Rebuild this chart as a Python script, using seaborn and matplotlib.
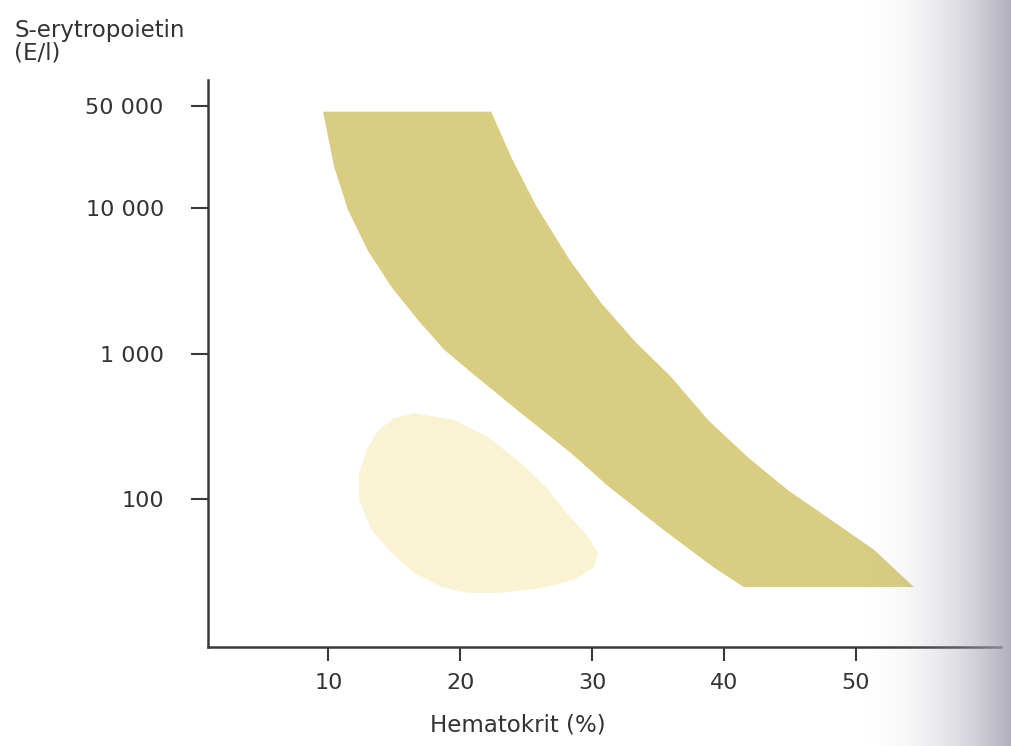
import numpy as np
import matplotlib
matplotlib.use("Agg")
import matplotlib.pyplot as plt
import seaborn as sns

# band: normal relation hematocrit vs S-EPO, both edges
band_left_hct = [9.6, 10.45, 11.5, 13.0, 14.8, 16.8, 18.8, 20.8, 24.6, 28.4,
                 31.1, 35.45, 39.2, 41.5]
band_left_epo = [46000, 19100, 9700, 5100, 2860, 1700, 1060, 746, 390, 207,
                 125, 61, 34, 24.8]
band_right_hct = [22.35, 23.9, 25.8, 28.3, 30.7, 33.3, 36.0, 38.8, 41.8,
                  44.85, 48.1, 51.4, 54.4]
band_right_epo = [46000, 22100, 10200, 4400, 2220, 1200, 690, 349, 194,
                  115, 72, 44.6, 24.8]

# light blob (outline, clockwise from the top)
blob_hct = [16.5, 19.55, 22.1, 24.6, 26.7, 28.0, 29.7, 30.45, 30.15,
            28.6, 26.1, 23.1, 20.6, 18.6, 16.5, 14.8, 13.3, 12.35, 12.35,
            12.9, 13.8, 15.0]
blob_epo = [390, 349, 267, 177, 115, 81.5, 55, 42.5, 34,
            27.8, 24.4, 22.6, 22.6, 24.8, 31, 42.5, 61, 98, 151,
            217, 298, 360]

xticks = [10, 20, 30, 40, 50]
yticks = [100, 1000, 10000, 50000]
ytick_labels = ["100", "1 000", "10 000", "50 000"]

band_color = "#d8cd80"
blob_color = "#f9f3d3"
ink = "#3a3a3a"
txt = "#333333"

sns.set_theme(style="ticks")
plt.rcParams["font.family"] = ["DejaVu Sans"]

fig = plt.figure(figsize=(10.11, 7.46), dpi=100)
ax = fig.add_axes([0.206, 0.1327, 0.784, 0.760])

ax.fill(band_left_hct + band_right_hct[::-1],
        band_left_epo + band_right_epo[::-1], color=band_color, lw=0)
ax.fill(blob_hct, blob_epo, color=blob_color, lw=0)

ax.set_yscale("log")
ax.set_xlim(0.9, 61)
ax.set_ylim(9.6, 75900)
ax.set_xticks(xticks)
ax.set_xticklabels([str(t) for t in xticks])
ax.set_yticks(yticks)
ax.set_yticklabels(ytick_labels)
ax.minorticks_off()

sns.despine(ax=ax)
for s in ["left", "bottom"]:
    ax.spines[s].set_color(ink)
    ax.spines[s].set_linewidth(1.8)
ax.tick_params(axis="both", colors=ink, labelcolor=txt,
               labelsize=16, width=1.5, direction="out")
ax.tick_params(axis="y", length=12, pad=20)
ax.tick_params(axis="x", length=10, pad=9)

ax.set_xlabel("Hematokrit (%)", fontsize=16.5, color=txt)
ax.xaxis.set_label_coords(0.39, -0.118)
fig.text(0.014, 0.975, "S-erytropoietin\n(E/l)", fontsize=16.5,
         color=txt, va="top", ha="left", linespacing=1.0)

# grey page shadow at the right edge of the scan
shade = np.linspace(0, 1, 200) ** 2.2
rgba = np.zeros((1, 200, 4))
rgba[..., 0] = 0.64
rgba[..., 1] = 0.63
rgba[..., 2] = 0.69
rgba[..., 3] = shade * 0.85
sax = fig.add_axes([0.84, 0.0, 0.16, 1.0], zorder=5)
sax.imshow(rgba, aspect="auto", extent=[0, 1, 0, 1])
sax.set_axis_off()

fig.savefig("out.png", dpi=100, facecolor="white")
